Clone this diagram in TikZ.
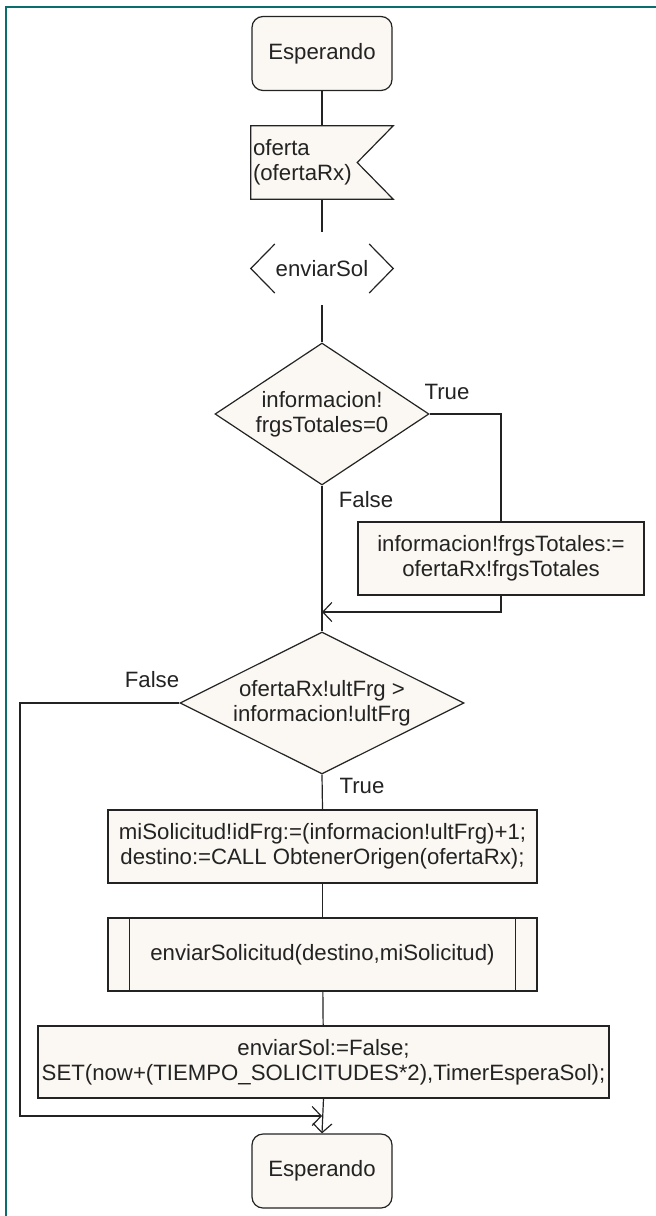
\documentclass[tikz,border=0pt]{standalone}
\usepackage{fontspec}
\setmainfont{Liberation Sans}
\usetikzlibrary{shapes.geometric,arrows.meta,calc,backgrounds}
\definecolor{framecol}{RGB}{10,110,110}
\definecolor{sdlfill}{RGB}{251,248,243}
\definecolor{ink}{RGB}{35,35,35}

\begin{document}
\begin{tikzpicture}[x=1pt,y=-1pt,
  font=\fontsize{22.2}{25}\selectfont,
  every node/.style={text=ink},
  line/.style={draw=ink, line width=1.2pt},
  barb/.style={line, -{Straight Barb[length=9pt,width=19pt,line width=1.2pt]}},
  statebox/.style={line, fill=sdlfill, rounded corners=11pt,
    minimum width=140pt, minimum height=74pt, inner sep=0pt},
  inputtext/.style={minimum width=142pt, minimum height=73pt,
    text width=138pt, inner xsep=2pt, inner ysep=0pt, align=left},
  decisiontext/.style={minimum width=142pt, minimum height=73pt, inner sep=0pt},
  choice/.style={line, fill=sdlfill, diamond, inner sep=0pt, align=center},
  taskbox/.style={line, fill=sdlfill, inner sep=0pt, align=center},
  lbl/.style={inner sep=0pt},
]
\useasboundingbox (0,0) rectangle (656,1216);

% window frame
\draw[framecol, line width=2.6pt] (6,1216) -- (6,7) -- (656,7);

% states
\node[statebox] (s1) at (322,53.5) {Esperando};
\node[statebox] (s2) at (322,1171) {Esperando};

% input signal
\node[inputtext] (rx) at (322,162.5) {oferta\\(ofertaRx)};
\begin{scope}[on background layer]
  \draw[line, fill=sdlfill] (rx.north west) -- (rx.north east)
    -- ($(rx.east)+(-36,0)$) -- (rx.south east) -- (rx.south west) -- cycle;
\end{scope}

% continuous signal / enabling condition
\node[decisiontext] (es) at (322,268.5) {enviarSol};
\draw[line] ($(es.west)+(24,-24.5)$) -- (es.west) -- ($(es.west)+(24,24.5)$);
\draw[line] ($(es.east)+(-24,-24.5)$) -- (es.east) -- ($(es.east)+(-24,24.5)$);

% decisions
\node[choice, shape aspect=1.5, minimum width=214pt, minimum height=142pt]
  (d1) at (322,414) {informacion!\\frgsTotales=0};
\node[choice, shape aspect=2, minimum width=284pt, minimum height=142pt]
  (d2) at (322,703) {ofertaRx!ultFrg >\\informacion!ultFrg};

% tasks
\node[taskbox, minimum width=286pt, minimum height=73pt] (info) at (501,558.5)
  {informacion!frgsTotales:=\\ofertaRx!frgsTotales};
\node[taskbox, minimum width=429pt, minimum height=73pt] (t1) at (322.5,846.5)
  {miSolicitud!idFrg:=(informacion!ultFrg)+1;\\destino:=CALL ObtenerOrigen(ofertaRx);};
\node[taskbox, minimum width=429pt, minimum height=73pt] (p1) at (322.5,954.5)
  {enviarSolicitud(destino,miSolicitud)};
\draw[line] ($(p1.north west)+(22,0)$) -- ($(p1.south west)+(22,0)$);
\draw[line] ($(p1.north east)+(-22,0)$) -- ($(p1.south east)+(-22,0)$);
\node[taskbox, minimum width=571pt, minimum height=72pt] (t3) at (323.5,1062)
  {enviarSol:=False;\\SET(now+(TIEMPO\_SOLICITUDES*2),TimerEsperaSol);};

% junction points
\coordinate (j1) at (322,612);
\coordinate (j2) at (322,1116);
\coordinate (fl) at (20,703);

% branch labels
\node[lbl] (tr1) at (447,392) {True};
\node[lbl] (fa1) at (366,500) {False};
\node[lbl] (fa2) at (152,680) {False};
\node[lbl] (tr2) at (362,786) {True};

% connectors
\draw[line] (s1) -- (rx);
\draw[line] (rx) -- (es);
\draw[line] (es) -- (d1);
\draw[line] (d1.east) -| (info.north);
\draw[line] (d1.south) -- (d2.north);
\draw[barb] (info.south) |- (j1);
\draw[line] (d2.south) -- (t1.north);
\draw[line] (t1) -- (p1);
\draw[line] (p1) -- (t3);
\draw[barb] (t3.south) -- (s2.north);
\draw[barb] (d2.west) -- (fl) |- (j2);
\end{tikzpicture}
\end{document}
